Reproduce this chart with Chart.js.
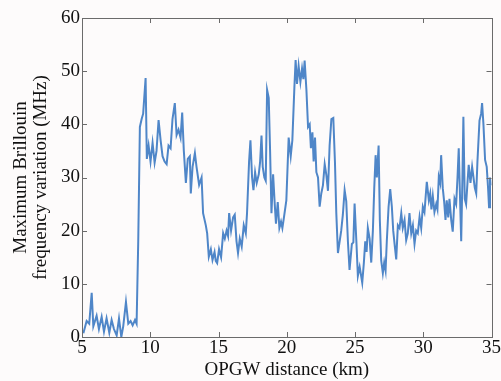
<!DOCTYPE html>
<html>
<head>
<meta charset="utf-8">
<script src="https://cdn.jsdelivr.net/npm/chart.js@4"></script>
<style>
  html, body { margin: 0; padding: 0; background: #fdfbfb; }
  #wrap { width: 501px; height: 381px; }
</style>
</head>
<body>
<div id="wrap"><canvas id="brillouinChart" width="501" height="381"></canvas></div>
<script>
// Distance along the OPGW (km)
const distanceKm = [
  5.10, 5.34, 5.53, 5.71, 5.83, 6.07, 6.24, 6.44, 6.61, 6.80, 7.00, 7.17, 7.34, 7.54, 7.71, 7.88,
  8.02, 8.22, 8.39, 8.56, 8.71, 8.88, 9.00, 9.12, 9.24, 9.37, 9.48, 9.66, 9.75, 9.88, 10.02, 10.17,
  10.32, 10.46, 10.61, 10.76, 10.90, 11.05, 11.20, 11.34, 11.49, 11.63, 11.80, 11.93, 12.07, 12.22,
  12.34, 12.46, 12.61, 12.75, 12.90, 12.97, 13.10, 13.27, 13.39, 13.58, 13.76, 13.87, 14.07, 14.17,
  14.29, 14.44, 14.56, 14.71, 14.80, 14.90, 15.04, 15.19, 15.34, 15.46, 15.59, 15.70, 15.78, 15.92,
  16.07, 16.19, 16.32, 16.43, 16.56, 16.70, 16.85, 17.00, 17.09, 17.24, 17.34, 17.46, 17.56, 17.68,
  17.80, 17.95, 18.05, 18.15, 18.24, 18.36, 18.46, 18.56, 18.68, 18.78, 18.88, 19.00, 19.12, 19.21,
  19.34, 19.46, 19.58, 19.68, 19.80, 19.97, 20.14, 20.29, 20.41, 20.56, 20.65, 20.75, 20.87, 21.00,
  21.12, 21.22, 21.31, 21.44, 21.56, 21.68, 21.77, 21.88, 21.97, 22.07, 22.17, 22.29, 22.41, 22.53,
  22.65, 22.78, 22.90, 23.02, 23.14, 23.27, 23.41, 23.53, 23.63, 23.75, 23.99, 24.11, 24.24, 24.36,
  24.48, 24.60, 24.77, 24.88, 24.97, 25.10, 25.21, 25.34, 25.43, 25.53, 25.65, 25.75, 25.85, 25.94,
  26.07, 26.19, 26.31, 26.41, 26.51, 26.60, 26.73, 26.82, 26.92, 27.04, 27.14, 27.24, 27.33, 27.46,
  27.58, 27.70, 27.80, 27.92, 28.02, 28.14, 28.26, 28.39, 28.50, 28.63, 28.75, 28.87, 28.99, 29.12,
  29.24, 29.36, 29.48, 29.60, 29.73, 29.85, 29.97, 30.09, 30.26, 30.41, 30.51, 30.60, 30.70, 30.82,
  30.95, 31.04, 31.14, 31.24, 31.31, 31.43, 31.53, 31.63, 31.72, 31.83, 31.92, 32.05, 32.16, 32.29,
  32.41, 32.51, 32.60, 32.70, 32.78, 32.87, 32.94, 33.04, 33.14, 33.24, 33.33, 33.46, 33.58, 33.68,
  33.78, 33.88, 33.97, 34.12, 34.24, 34.31, 34.41, 34.53, 34.65, 34.75, 34.82, 34.89, 34.96
];

// Maximum Brillouin frequency variation (MHz) at each distance
const maxShiftMHz = [
  0.7, 3.0, 2.5, 8.3, 2.0, 4.0, 1.5, 3.8, 1.0, 3.5, 0.8, 3.2, 1.5, 0.3, 3.5, 0.0,
  2.0, 6.6, 2.5, 3.0, 2.2, 3.2, 2.5, 18.0, 39.5, 41.0, 42.0, 48.7, 33.5, 36.0, 33.0, 36.5,
  32.8, 35.0, 40.8, 37.0, 34.0, 33.0, 32.5, 36.0, 35.5, 41.0, 44.0, 38.0, 39.0, 37.5,
  42.2, 35.0, 29.0, 33.5, 34.0, 27.0, 32.0, 34.6, 32.0, 28.6, 30.0, 23.3, 21.0, 19.5,
  15.1, 16.5, 14.5, 16.0, 14.3, 13.9, 16.5, 15.0, 19.5, 18.5, 20.0, 19.0, 23.3, 20.0,
  22.5, 23.0, 18.0, 15.8, 18.5, 17.0, 21.0, 19.5, 23.3, 33.0, 37.0, 30.0, 27.6, 31.0,
  29.0, 30.6, 33.0, 37.9, 32.0, 30.0, 29.4, 46.5, 45.0, 35.0, 23.3, 30.6, 25.0, 21.3,
  25.4, 20.5, 21.7, 20.5, 22.6, 25.7, 37.5, 34.0, 37.0, 47.0, 52.1, 47.6, 51.0, 48.0,
  50.5, 48.5, 52.0, 46.5, 39.5, 40.0, 35.5, 38.5, 33.0, 37.5, 31.0, 30.0, 24.5, 27.0,
  28.5, 32.5, 30.5, 27.5, 36.0, 41.0, 41.2, 33.0, 23.3, 15.8, 20.0, 23.0, 27.6, 25.5,
  18.0, 12.6, 17.5, 17.8, 25.1, 18.0, 11.5, 13.2, 11.8, 10.2, 14.0, 18.0, 16.0, 20.5,
  18.5, 14.0, 20.0, 28.0, 34.2, 30.0, 36.0, 22.0, 14.4, 12.0, 14.0, 12.5, 18.0, 24.5,
  27.8, 24.5, 20.0, 17.0, 14.6, 21.0, 20.5, 23.3, 20.5, 22.0, 18.2, 19.5, 23.3, 19.5,
  21.0, 17.5, 20.0, 19.5, 22.6, 20.5, 24.5, 23.5, 29.2, 25.7, 27.0, 24.0, 26.5, 23.5,
  25.0, 24.0, 30.1, 29.0, 34.2, 28.0, 25.5, 22.0, 25.7, 22.5, 26.0, 22.0, 19.8, 26.0,
  25.0, 30.0, 35.5, 25.7, 18.0, 30.0, 41.4, 26.0, 25.0, 29.0, 32.4, 29.0, 32.0, 30.0,
  28.0, 27.0, 33.0, 40.7, 42.0, 44.0, 40.0, 33.3, 32.0, 28.0, 24.4, 30.0, 28.5
];

const xTicks = [5, 10, 15, 20, 25, 30, 35];
const yTicks = [0, 10, 20, 30, 40, 50, 60];

const frameColor = '#6b6b6b';
const fontFamily = '"Liberation Serif", "Times New Roman", serif';

// рамка вокруг области графика и засечки внутрь на всех четырёх сторонах
const boxAndTicks = {
  id: 'boxAndTicks',
  afterDatasetsDraw(chart) {
    const {ctx, chartArea: a, scales: {x, y}} = chart;
    const len = 5;
    ctx.save();
    ctx.strokeStyle = frameColor;
    ctx.lineWidth = 1;
    ctx.beginPath();
    xTicks.forEach(v => {
      const px = Math.round(x.getPixelForValue(v)) + 0.5;
      ctx.moveTo(px, a.bottom); ctx.lineTo(px, a.bottom - len);
      ctx.moveTo(px, a.top); ctx.lineTo(px, a.top + len);
    });
    yTicks.forEach(v => {
      const py = Math.round(y.getPixelForValue(v)) + 0.5;
      ctx.moveTo(a.left, py); ctx.lineTo(a.left + len, py);
      ctx.moveTo(a.right, py); ctx.lineTo(a.right - len, py);
    });
    ctx.stroke();
    ctx.strokeRect(Math.round(a.left) + 0.5, Math.round(a.top) + 0.5,
        Math.round(a.right - a.left), Math.round(a.bottom - a.top));
    ctx.restore();
  }
};

const points = distanceKm.map((d, i) => ({x: d, y: maxShiftMHz[i]}));

new Chart(document.getElementById('brillouinChart'), {
  type: 'line',
  data: {
    datasets: [{
      data: points,
      borderColor: '#4f86c8',
      borderWidth: 2,
      pointRadius: 0,
      tension: 0,
      fill: false
    }]
  },
  options: {
    responsive: false,
    animation: false,
    layout: {padding: {top: 18, right: 9, left: 0, bottom: 0}},
    plugins: {legend: {display: false}, tooltip: {enabled: false}},
    scales: {
      x: {
        type: 'linear',
        min: 5,
        max: 35,
        afterFit: (s) => { s.height = 44; },
        afterBuildTicks: (s) => { s.ticks = xTicks.map(v => ({value: v})); },
        grid: {display: false, drawTicks: false},
        border: {display: false},
        ticks: {color: '#111', padding: 0, font: {family: fontFamily, size: 19}},
        title: {
          display: true,
          text: 'OPGW distance (km)',
          color: '#111',
          padding: {top: 0, bottom: 0},
          font: {family: fontFamily, size: 19}
        }
      },
      y: {
        min: 0,
        max: 60,
        afterFit: (s) => { s.width = 82; },
        afterBuildTicks: (s) => { s.ticks = yTicks.map(v => ({value: v})); },
        grid: {display: false, drawTicks: false},
        border: {display: false},
        ticks: {color: '#111', padding: 2, font: {family: fontFamily, size: 19}},
        title: {
          display: true,
          text: ['Maximum Brillouin', 'frequency variation (MHz)'],
          color: '#111',
          padding: {top: 11, bottom: 0},
          font: {family: fontFamily, size: 19, lineHeight: 1.05}
        }
      }
    }
  },
  plugins: [boxAndTicks]
});
</script>
</body>
</html>
